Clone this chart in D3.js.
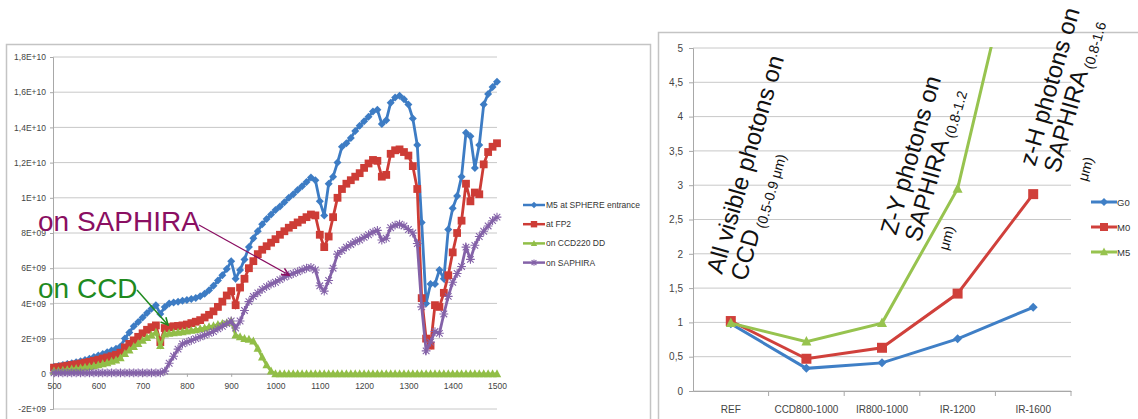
<!DOCTYPE html>
<html>
<head>
<meta charset="utf-8">
<script src="https://cdn.jsdelivr.net/npm/d3@7"></script>
<style>
body { margin: 0; background: #fff; }
svg { display: block; font-family: "Liberation Sans", Arial, sans-serif; }
</style>
</head>
<body>
<svg id="chart" width="1138" height="419"></svg>
<script>
// ---- left chart: photon flux vs wavelength (values in units of 1E+09)
const wavelengths = d3.range(500, 1501, 10)

const m5Entrance = [
    0.40, 0.45, 0.50, 0.55, 0.60, 0.66, 0.72, 0.78, 0.86, 0.95,
    1.04, 1.12, 1.22, 1.32, 1.42, 1.55, 2.0, 2.35, 2.7, 2.95,
    3.2, 3.45, 3.7, 3.9, 3.4, 3.8, 4.0, 4.05, 4.1, 4.15,
    4.2, 4.25, 4.3, 4.4, 4.55, 4.75, 5.0, 5.3, 5.6, 5.95,
    6.4, 5.4, 5.9, 6.5, 7.2, 7.7, 8.1, 8.5, 8.8, 9.05,
    9.3, 9.5, 9.75, 10.0, 10.2, 10.45, 10.65, 10.9, 11.15, 11.0,
    9.8, 9.0, 10.8, 11.2, 12.0, 12.9, 13.1, 13.4, 13.8, 14.1,
    14.35, 14.6, 14.9, 15.0, 14.2, 14.4, 15.4, 15.7, 15.8, 15.6,
    15.3, 14.5, 13.0, 8.6, 4.0, 5.1, 5.1, 5.9, 5.4, 8.2,
    9.4, 10.1, 11.2, 13.7, 13.5, 11.7, 13.0, 15.3, 15.9, 16.3,
    16.6
]
const atFP2 = [
    0.35, 0.38, 0.42, 0.46, 0.50, 0.54, 0.58, 0.63, 0.68, 0.74,
    0.80, 0.87, 0.93, 1.0, 1.08, 1.2, 1.5, 1.7, 1.9, 2.1,
    2.3, 2.5, 2.65, 2.75, 1.8, 2.6, 2.65, 2.7, 2.72, 2.75,
    2.8, 2.88, 2.96, 3.05, 3.2, 3.35, 3.55, 3.8, 4.1, 4.45,
    4.7, 3.9, 4.9, 5.4, 6.0, 6.4, 6.8, 7.05, 7.25, 7.45,
    7.65, 7.9, 8.1, 8.3, 8.45, 8.6, 8.75, 8.9, 9.05, 9.0,
    7.9, 7.2, 7.8, 8.9, 10.0, 10.5, 10.8, 11.0, 11.2, 11.4,
    11.7, 11.95, 12.15, 12.1, 11.2, 11.3, 12.5, 12.7, 12.75, 12.6,
    12.4, 11.8, 10.5, 4.3, 2.0, 1.6, 3.9, 3.8, 4.6, 5.6,
    6.9, 8.0, 8.7, 10.8, 9.8, 10.3, 10.2, 11.9, 12.6, 12.9,
    13.1
]
const onCCD = [
    0.15, 0.17, 0.2, 0.23, 0.26, 0.29, 0.32, 0.36, 0.4, 0.45,
    0.5, 0.56, 0.62, 0.7, 0.78, 0.9, 1.15, 1.35, 1.55, 1.72,
    1.9, 2.05, 2.2, 2.35, 1.6, 2.25, 2.3, 2.32, 2.35, 2.38,
    2.42, 2.46, 2.5, 2.55, 2.6, 2.66, 2.72, 2.8, 2.85, 2.9,
    3.0, 2.2, 2.1, 2.0, 1.95, 1.85, 1.45, 0.95, 0.5, 0.15,
    0, 0, 0, 0, 0, 0, 0, 0, 0, 0,
    0, 0, 0, 0, 0, 0, 0, 0, 0, 0,
    0, 0, 0, 0, 0, 0, 0, 0, 0, 0,
    0, 0, 0, 0, 0, 0, 0, 0, 0, 0,
    0, 0, 0, 0, 0, 0, 0, 0, 0, 0,
    0
]
const onSaphira = [
    0.05, 0.05, 0.05, 0.05, 0.05, 0.05, 0.05, 0.05, 0.05, 0.05,
    0.05, 0.05, 0.05, 0.05, 0.05, 0.05, 0.05, 0.05, 0.05, 0.05,
    0.05, 0.05, 0.05, 0.05, 0.05, 0.15, 0.6, 1.0, 1.4, 1.7,
    1.8, 1.9, 2.0, 2.1, 2.2, 2.3, 2.4, 2.55, 2.7, 2.85,
    3.0, 2.6, 3.0, 3.6, 4.1, 4.4, 4.6, 4.8, 4.95, 5.1,
    5.2, 5.35, 5.5, 5.6, 5.7, 5.8, 5.9, 6.0, 6.05, 5.9,
    5.0, 4.7, 5.3, 6.0, 6.8, 7.0, 7.2, 7.35, 7.5, 7.6,
    7.75, 7.9, 8.05, 8.15, 7.6, 7.7, 8.3, 8.45, 8.5, 8.4,
    8.2, 8.0, 7.4, 3.8, 1.3, 1.8, 2.4, 2.3, 3.4, 4.4,
    5.2, 5.7, 6.1, 7.2, 6.5, 7.3, 7.8, 8.1, 8.4, 8.7,
    8.9
]
const fluxTicks = [-2, 0, 2, 4, 6, 8, 10, 12, 14, 16, 18]
const waveTicks = [500, 600, 700, 800, 900, 1000, 1100, 1200, 1300, 1400, 1500]
const fluxNames = ["M5 at SPHERE entrance", "at FP2", "on CCD220 DD", "on SAPHIRA"]

// ---- right chart: relative gain per configuration
const configs = ["REF", "CCD800-1000", "IR800-1000", "IR-1200", "IR-1600"]
const g0 = [0.98, 0.33, 0.41, 0.76, 1.22]
const m0 = [1.02, 0.47, 0.63, 1.42, 2.87]
const m5 = [0.99, 0.72, 0.99, 2.95, 7.6]
const ratioTicks = [0, 0.5, 1, 1.5, 2, 2.5, 3, 3.5, 4, 4.5, 5]
const ratioNames = ["G0", "M0", "M5"]

const svg = d3.select("#chart")
svg.append("rect").attr("width", 1138).attr("height", 419).attr("fill", "#fff")

const BLUE = "#3d7cc4", RED = "#cd3c36", GREEN = "#91be47", PURPLE = "#8462a8"

function markerPath(type, s) {
    if (type === "diamond") return `M0,${-s}L${s},0L0,${s}L${-s},0Z`
    if (type === "square") return `M${-s},${-s}h${2 * s}v${2 * s}h${-2 * s}Z`
    if (type === "triangle") return `M0,${-s * 1.1}L${s},${s * 0.8}L${-s},${s * 0.8}Z`
    // asterisk
    const d = s * 0.75
    return `M${-d},${-d}L${d},${d}M${-d},${d}L${d},${-d}M0,${-s}L0,${s}M${-s},0L${s},0`
}

function drawMarker(g, type, color, s) {
    const p = g.append("path").attr("d", markerPath(type, s))
    if (type === "star") p.attr("fill", "none").attr("stroke", color).attr("stroke-width", 1.1)
    else p.attr("fill", color)
    return p
}

function sciLabel(v) {
    if (v === 0) return "0"
    const raw = v * 1e9
    const e = Math.floor(Math.log10(Math.abs(raw)))
    const m = +(raw / Math.pow(10, e)).toFixed(2)
    return String(m).replace(".", ",") + "E+" + String(e).padStart(2, "0")
}

function makeFluxChart() {
    svg.append("rect").attr("x", 6.5).attr("y", 44.5).attr("width", 644).attr("height", 420)
        .attr("fill", "none").attr("stroke", "#c4c4c4").attr("stroke-width", 1.5)

    const x = d3.scaleLinear().domain([500, 1500]).range([54, 497])
    const y = d3.scaleLinear().domain([-2, 18]).range([409, 57])

    // grid
    svg.append("g").selectAll("line").data(fluxTicks).enter().append("line")
        .attr("x1", 53).attr("x2", 497)
        .attr("y1", d => y(d)).attr("y2", d => y(d))
        .attr("stroke", "#c8c8c8").attr("stroke-width", 1)

    const yAxis = svg.append("g").attr("transform", "translate(53,0)")
        .call(d3.axisLeft(y).tickValues(fluxTicks).tickSize(3).tickPadding(4).tickFormat(sciLabel))
    yAxis.selectAll("text").style("font-size", "8.5px").attr("fill", "#444")
    yAxis.selectAll("line, path").attr("stroke", "#a8a8a8")

    const xAxis = svg.append("g").attr("transform", `translate(0,${y(0)})`)
        .call(d3.axisBottom(x).tickValues(waveTicks).tickSize(3).tickPadding(6).tickFormat(d3.format("d")))
    xAxis.selectAll("text").style("font-size", "8.5px").attr("fill", "#444")
    xAxis.selectAll("line, path").attr("stroke", "#a8a8a8")

    const series = [
        { name: fluxNames[0], values: m5Entrance, color: BLUE, type: "diamond", s: 4 },
        { name: fluxNames[1], values: atFP2, color: RED, type: "square", s: 3.9 },
        { name: fluxNames[2], values: onCCD, color: GREEN, type: "triangle", s: 4.2 },
        { name: fluxNames[3], values: onSaphira, color: PURPLE, type: "star", s: 4.4 }
    ]

    const line = d3.line().x((d, i) => x(wavelengths[i])).y(d => y(d))

    series.forEach(sr => {
        const g = svg.append("g")
        g.append("path").datum(sr.values).attr("d", line)
            .attr("fill", "none").attr("stroke", sr.color).attr("stroke-width", 2.8)
        g.selectAll("g.m").data(sr.values).enter().append("g")
            .attr("transform", (d, i) => `translate(${x(wavelengths[i])},${y(d)})`)
            .each(function () { drawMarker(d3.select(this), sr.type, sr.color, sr.s) })
    })

    // legend
    const lg = svg.append("g").selectAll("g").data(series).enter().append("g")
        .attr("transform", (d, i) => `translate(523,${205 + i * 19.2})`)
    lg.append("line").attr("x1", 0).attr("x2", 22).attr("stroke", d => d.color).attr("stroke-width", 2.5)
    lg.each(function (d) {
        const m = d3.select(this).append("g").attr("transform", "translate(11,0)")
        drawMarker(m, d.type, d.color, 3.2)
    })
    lg.append("text").attr("x", 23).attr("y", 3).style("font-size", "8.5px").attr("fill", "#333")
        .text(d => d.name)

    // annotations with arrows
    const defs = svg.append("defs")
    const heads = [["headPurple", "#8a0f62"], ["headGreen", "#1f8a1f"]]
    heads.forEach(([id, c]) => {
        defs.append("marker").attr("id", id).attr("viewBox", "0 0 10 10").attr("refX", 9).attr("refY", 5)
            .attr("markerWidth", 9).attr("markerHeight", 9).attr("orient", "auto")
            .attr("markerUnits", "userSpaceOnUse")
            .append("path").attr("d", "M1,1L9,5L1,9").attr("fill", "none").attr("stroke", c).attr("stroke-width", 1.8)
    })

    svg.append("text").attr("x", 38).attr("y", 231).style("font-size", "28px").attr("fill", "#8a0f62").text("on SAPHIRA")
    svg.append("line").attr("x1", 199).attr("y1", 225).attr("x2", 289).attr("y2", 275)
        .attr("stroke", "#8a0f62").attr("stroke-width", 1.2).attr("marker-end", "url(#headPurple)")

    svg.append("text").attr("x", 38).attr("y", 298).style("font-size", "28px").attr("fill", "#1f8a1f").text("on CCD")
    svg.append("line").attr("x1", 137).attr("y1", 290).attr("x2", 168).attr("y2", 325)
        .attr("stroke", "#1f8a1f").attr("stroke-width", 1.5).attr("marker-end", "url(#headGreen)")
}

function makeRatioChart() {
    svg.append("rect").attr("x", 658.5).attr("y", 32.5).attr("width", 500).attr("height", 420)
        .attr("fill", "none").attr("stroke", "#c4c4c4").attr("stroke-width", 1.5)

    const x = d3.scaleBand().domain(configs).range([693, 1071])
    const y = d3.scaleLinear().domain([0, 5]).range([391, 48])

    svg.append("g").selectAll("line").data(ratioTicks).enter().append("line")
        .attr("x1", 693).attr("x2", 1071)
        .attr("y1", d => y(d)).attr("y2", d => y(d))
        .attr("stroke", "#c8c8c8").attr("stroke-width", 1)

    const yAxis = svg.append("g").attr("transform", "translate(693,0)")
        .call(d3.axisLeft(y).tickValues(ratioTicks).tickSize(4).tickPadding(6)
            .tickFormat(d => String(d).replace(".", ",")))
    yAxis.selectAll("text").style("font-size", "10px").attr("fill", "#444")
    yAxis.selectAll("line, path").attr("stroke", "#a8a8a8")

    const xAxis = svg.append("g").attr("transform", `translate(0,${y(0)})`)
        .call(d3.axisBottom(x).tickSize(0).tickPadding(15))
    xAxis.selectAll("text").style("font-size", "10px").attr("fill", "#444")
    xAxis.selectAll("path").attr("stroke", "#a8a8a8")
    // tick marks at category boundaries
    xAxis.selectAll("line.b").data(configs).enter().append("line")
        .attr("x1", d => x(d) + x.bandwidth()).attr("x2", d => x(d) + x.bandwidth())
        .attr("y1", 0).attr("y2", 5).attr("stroke", "#a8a8a8")

    svg.append("clipPath").attr("id", "ratioClip").append("rect")
        .attr("x", 680).attr("y", 47).attr("width", 400).attr("height", 360)

    const series = [
        { name: ratioNames[0], values: g0, color: "#3f7fc6", type: "diamond", s: 4.5 },
        { name: ratioNames[1], values: m0, color: "#d0403b", type: "square", s: 5 },
        { name: ratioNames[2], values: m5, color: "#97c34f", type: "triangle", s: 5 }
    ]
    const cx = d => x(d) + x.bandwidth() / 2
    const line = d3.line().x((d, i) => cx(configs[i])).y(d => y(d))

    const plot = svg.append("g").attr("clip-path", "url(#ratioClip)")
    series.forEach(sr => {
        plot.append("path").datum(sr.values).attr("d", line)
            .attr("fill", "none").attr("stroke", sr.color).attr("stroke-width", 3)
        plot.selectAll(null).data(sr.values).enter().append("g")
            .attr("transform", (d, i) => `translate(${cx(configs[i])},${y(d)})`)
            .each(function () { drawMarker(d3.select(this), sr.type, sr.color, sr.s) })
    })

    const lg = svg.append("g").selectAll("g").data(series).enter().append("g")
        .attr("transform", (d, i) => `translate(1091,${202 + i * 25})`)
    lg.append("line").attr("x1", 0).attr("x2", 26).attr("stroke", d => d.color).attr("stroke-width", 3)
    lg.each(function (d) {
        drawMarker(d3.select(this).append("g").attr("transform", "translate(13,0)"), d.type, d.color, 4)
    })
    lg.append("text").attr("x", 26).attr("y", 3.5).style("font-size", "9.5px").attr("fill", "#333")
        .text(d => d.name)

    // rotated annotations
    const notes = [
        { x: 722, y: 275, lines: [[["All visible photons on", 0]], [["CCD", 0], [" (0.5-0.9 μm)", 1]]] },
        { x: 896, y: 236, lines: [[["Z-Y photons on", 0]], [["SAPHIRA", 0], [" (0.8-1.2", 1]], [["μm)", 1]]] },
        { x: 1035, y: 167, lines: [[["z-H photons on", 0]], [["SAPHIRA", 0], [" (0.8-1.6", 1]], [["μm)", 1]]] }
    ]
    notes.forEach(n => {
        const g = svg.append("g").attr("transform", `translate(${n.x},${n.y}) rotate(-74)`)
        n.lines.forEach((ln, i) => {
            const t = g.append("text").attr("x", 0).attr("y", i * 25).attr("fill", "#111")
                .style("font-size", "24px")
            ln.forEach(([txt, small]) => {
                t.append("tspan").text(txt)
                    .style("font-size", small ? "14px" : "24px")
                    .attr("dy", small ? 4 : 0)
            })
        })
    })
}

makeFluxChart()
makeRatioChart()
</script>
</body>
</html>
